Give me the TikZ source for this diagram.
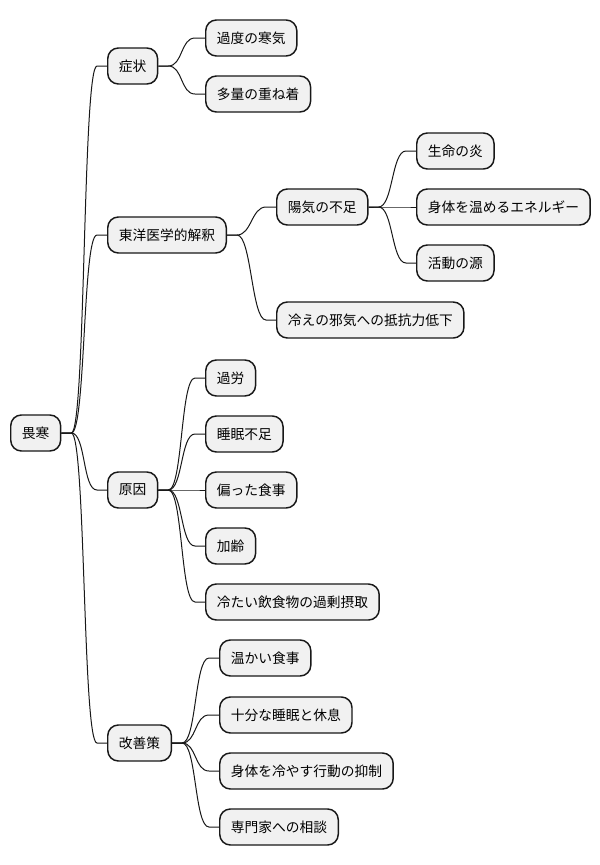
\documentclass[tikz,border=0pt]{standalone}
\usepackage{fontspec}
\newfontfamily\jpfont{Noto Sans CJK JP}
\definecolor{boxfill}{HTML}{F1F1F1}
\definecolor{boxline}{HTML}{181818}
\begin{document}
\begin{tikzpicture}[x=0.75pt,y=-0.75pt,
  box/.style={draw=boxline,fill=boxfill,line width=1.1pt,rounded corners=8pt,
    anchor=west,minimum height=27pt,inner xsep=8.4pt,inner ysep=0pt,
    font=\jpfont\fontsize{10.3pt}{12pt}\selectfont,text=black},
  conn/.style={draw=boxline,line width=0.75pt,
    to path={-- ++(10,0) .. controls ([xshift=24.5*0.75pt]\tikztostart) and ([xshift=-24.5*0.75pt]\tikztotarget.west) .. ([xshift=-10*0.75pt]\tikztotarget.west) -- (\tikztotarget.west)}}
]
\useasboundingbox (0,0) rectangle (600,865);
\fill[white] (0,0) rectangle (600,865);

\node[box] (root) at (10,433) {畏寒};

\node[box] (s) at (107,66) {症状};
\node[box] (s1) at (205,38) {過度の寒気};
\node[box] (s2) at (205,94) {多量の重ね着};

\node[box] (t) at (107,235) {東洋医学的解釈};
\node[box] (t1) at (276,207) {陽気の不足};
\node[box] (t11) at (416,151) {生命の炎};
\node[box] (t12) at (416,207) {身体を温めるエネルギー};
\node[box] (t13) at (416,263) {活動の源};
\node[box] (t2) at (276,320) {冷えの邪気への抵抗力低下};

\node[box] (c) at (107,490) {原因};
\node[box] (c1) at (205,378) {過労};
\node[box] (c2) at (205,434) {睡眠不足};
\node[box] (c3) at (205,490) {偏った食事};
\node[box] (c4) at (205,546) {加齢};
\node[box] (c5) at (205,602) {冷たい飲食物の過剰摂取};

\node[box] (k) at (107,743) {改善策};
\node[box] (k1) at (219,658) {温かい食事};
\node[box] (k2) at (219,715) {十分な睡眠と休息};
\node[box] (k3) at (219,771) {身体を冷やす行動の抑制};
\node[box] (k4) at (219,827) {専門家への相談};

\foreach \a/\b in {root/s,root/t,root/c,root/k,s/s1,s/s2,t/t1,t/t2,t1/t11,t1/t12,t1/t13,c/c1,c/c2,c/c3,c/c4,c/c5,k/k1,k/k2,k/k3,k/k4}
  \draw[conn] (\a.east) to (\b);
\end{tikzpicture}
\end{document}
